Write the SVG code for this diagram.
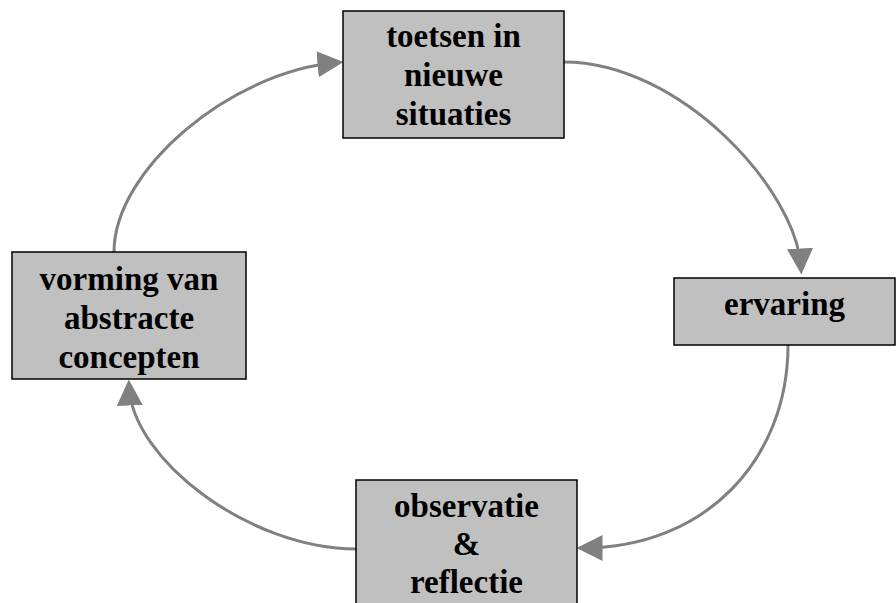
<svg xmlns="http://www.w3.org/2000/svg" width="896" height="603" viewBox="0 0 896 603">
  <style>
    .box { fill: #c0c0c0; stroke: #000000; stroke-width: 1.5; }
    .lbl { font-family: "Liberation Serif", "Times New Roman", serif; font-weight: bold; font-size: 33px; fill: #000000; text-anchor: middle; }
    .conn { fill: none; stroke: #808080; stroke-width: 3; marker-end: url(#arrow); }
  </style>
  <defs>
    <marker id="arrow" markerUnits="userSpaceOnUse" markerWidth="26" markerHeight="26" viewBox="0 0 24 24" refX="18" refY="12" orient="auto">
      <path d="M0,0 L24,12 L0,24 Z" fill="#808080"/>
    </marker>
  </defs>
  <rect width="896" height="603" fill="#ffffff"/>

  <g id="connectors">
    <path class="conn" d="M114,252 C114,170 230,72 337,62.6"/>
    <path class="conn" d="M564,62 C680,62 797,190 801,268"/>
    <path class="conn" d="M788,345 C788,460 705,548 583,548"/>
    <path class="conn" d="M356,549 C250,549 132,460 129,386"/>
  </g>

  <g id="node-toetsen">
    <rect class="box" x="343" y="11" width="221" height="127"/>
    <text class="lbl" x="453.5" y="47">toetsen in</text>
    <text class="lbl" x="453.5" y="86">nieuwe</text>
    <text class="lbl" x="453.5" y="125">situaties</text>
  </g>

  <g id="node-ervaring">
    <rect class="box" x="674" y="278" width="221" height="67"/>
    <text class="lbl" x="784.5" y="315">ervaring</text>
  </g>

  <g id="node-observatie">
    <rect class="box" x="356" y="480" width="221" height="135"/>
    <text class="lbl" x="466.5" y="517">observatie</text>
    <text class="lbl" x="466.5" y="555">&amp;</text>
    <text class="lbl" x="466.5" y="593">reflectie</text>
  </g>

  <g id="node-vorming">
    <rect class="box" x="12" y="252" width="234" height="127"/>
    <text class="lbl" x="129" y="290">vorming van</text>
    <text class="lbl" x="129" y="329">abstracte</text>
    <text class="lbl" x="129" y="368">concepten</text>
  </g>
</svg>
